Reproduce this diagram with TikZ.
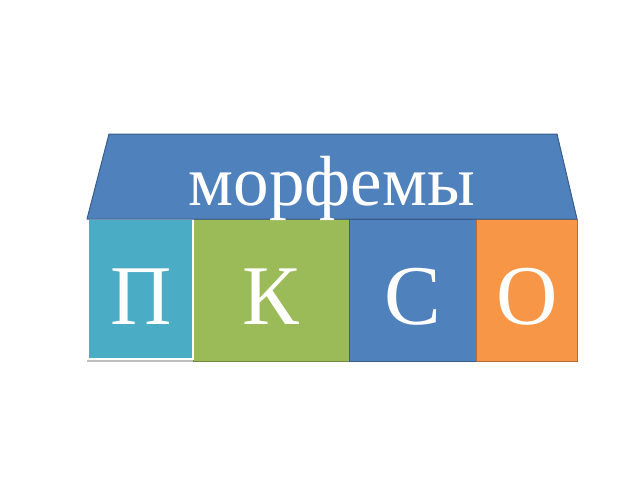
\documentclass[tikz,border=0pt]{standalone}
\usepackage{fontspec}
\setmainfont{Liberation Serif}
\definecolor{roofblue}{HTML}{4F81BD}
\definecolor{roofedge}{HTML}{385D8A}
\definecolor{cyanbox}{HTML}{4BACC6}
\definecolor{greenbox}{HTML}{9BBB59}
\definecolor{greenedge}{HTML}{71893F}
\definecolor{orangebox}{HTML}{F79646}
\definecolor{orangeedge}{HTML}{B66D31}
\tikzset{
  blk/.style={line width=1pt},
  bigletter/.style={anchor=base, text=white, inner sep=0pt, font=\fontsize{85}{100}\selectfont},
  rooftext/.style={anchor=base, text=white, inner sep=0pt, font=\fontsize{71}{84}\selectfont}
}
\begin{document}
\begin{tikzpicture}[x=1pt,y=-1pt]
\useasboundingbox (0,0) rectangle (640,480);
% shadow under first block
\fill[black!25] (87,359) rectangle (194,362);
% blocks
\draw[blk, fill=greenbox, draw=greenedge] (193,219) rectangle (349,361);
\draw[blk, fill=roofblue, draw=roofedge] (349,219) rectangle (476,361);
\draw[blk, fill=orangebox, draw=orangeedge] (476,219) rectangle (577,361);
\draw[line width=1.5pt, fill=cyanbox, draw=white] (88,219) rectangle (193,359);
% roof
\draw[blk, fill=roofblue, draw=roofedge, line join=round] (109,134) -- (557,134) -- (577,219) -- (87,219) -- cycle;
% letters
\node[bigletter] (p) at (141,324) {П};
\node[bigletter] (k) at (270.5,324) {К};
\node[bigletter] (s) at (413,324) {С};
\node[bigletter] (o) at (527,324) {О};
\node[rooftext] (t) at (332,205) {морфемы};
\end{tikzpicture}
\end{document}
